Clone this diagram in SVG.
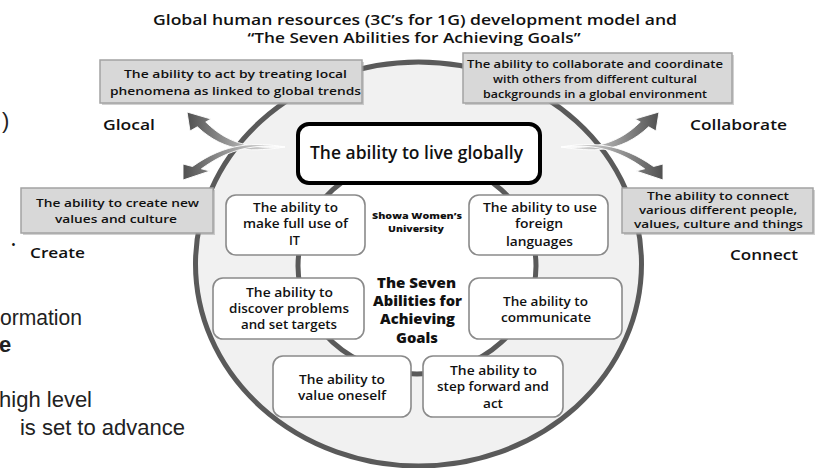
<svg xmlns="http://www.w3.org/2000/svg" width="817" height="468" viewBox="0 0 817 468">
<style>
text{font-family:"Open Sans","Liberation Sans",sans-serif;fill:#111;}
.t{font-size:13.5px;font-weight:600;text-anchor:middle;}
.g{font-size:11.5px;font-weight:600;text-anchor:middle;}
.w{font-size:12.5px;font-weight:600;text-anchor:middle;}
.lbl{font-size:15px;font-weight:600;}
.frag{font-family:"Liberation Sans",Arial,sans-serif;font-size:22px;fill:#222;}
.gbox{fill:#d8d8d8;stroke:#a3a3a3;stroke-width:1.5;}
.shadow{fill:#9a9a9a;opacity:0.45;}
.wbox{fill:#fff;stroke:#8a8a8a;stroke-width:1.6;}
.arr{fill:url(#ag);stroke:#fff;stroke-width:0.9;}
</style>
<defs>
<linearGradient id="ag" x1="1" y1="0" x2="0" y2="0">
<stop offset="0" stop-color="#f0f0f0"/>
<stop offset="0.4" stop-color="#b5b5b5"/>
<stop offset="1" stop-color="#505050"/>
</linearGradient>
</defs>
<rect width="817" height="468" fill="#fff"/>

<g id="title">
<text class="t" x="415" y="24.5" textLength="524" lengthAdjust="spacingAndGlyphs">Global human resources (3C’s for 1G) development model and</text>
<text class="t" x="414" y="43" textLength="333" lengthAdjust="spacingAndGlyphs">“The Seven Abilities for Achieving Goals”</text>
</g>

<g id="fragments">
<text class="frag" x="2" y="128">)</text>
<text class="frag" x="82" y="325" text-anchor="end" textLength="82" lengthAdjust="spacingAndGlyphs">ormation</text>
<text class="frag" x="-1" y="352" font-weight="bold">e</text>
<text class="frag" x="92" y="407" text-anchor="end">high level</text>
<text class="frag" x="185" y="435" text-anchor="end">is set to advance</text>
</g>

<g id="outer-circle">
<ellipse cx="418.5" cy="264" rx="223" ry="202" fill="#f1f1f1" stroke="#5a5a5a" stroke-width="5"/>
</g>

<g id="connectors">
<ellipse cx="417" cy="266" rx="119" ry="108" fill="#fff" stroke="#5a5a5a" stroke-width="5"/>
<g id="left-arrows">
<path class="arr" d="M285,147 C255,148.5 230,146 205.75,122 L211,119 L187,112 L190,131 L197.35,126.8 C226,154 255,151.5 285,147 Z"/>
<path class="arr" d="M285,147 C255,142 226,142.5 192.5,166.5 L183,164 L183,180 L210,171 L201.4,168.8 C230,148 255,144 285,147 Z"/>
</g>
<g id="right-arrows" transform="translate(846,0) scale(-1,1)">
<path class="arr" d="M285,147 C255,148.5 230,146 205.75,122 L211,119 L187,112 L190,131 L197.35,126.8 C226,154 255,151.5 285,147 Z"/>
<path class="arr" d="M285,147 C255,142 226,142.5 192.5,166.5 L183,164 L183,180 L210,171 L201.4,168.8 C230,148 255,144 285,147 Z"/>
</g>
</g>

<g id="glocal-box">
<rect class="shadow" x="102" y="62" width="262" height="43"/>
<rect class="gbox" x="100" y="60" width="262" height="43"/>
<text class="g" x="235.5" y="78" textLength="223" lengthAdjust="spacingAndGlyphs">The ability to act by treating local</text>
<text class="g" x="235.5" y="95" textLength="251" lengthAdjust="spacingAndGlyphs">phenomena as linked to global trends</text>
</g>

<g id="collaborate-box">
<rect class="shadow" x="465" y="55" width="269" height="50"/>
<rect class="gbox" x="463" y="53" width="269" height="50"/>
<text class="g" x="595" y="68" textLength="256" lengthAdjust="spacingAndGlyphs">The ability to collaborate and coordinate</text>
<text class="g" x="595" y="83" textLength="204" lengthAdjust="spacingAndGlyphs">with others from different cultural</text>
<text class="g" x="595" y="98" textLength="224" lengthAdjust="spacingAndGlyphs">backgrounds in a global environment</text>
</g>

<g id="create-box">
<rect class="shadow" x="23" y="190" width="192" height="45"/>
<rect class="gbox" x="21" y="188" width="192" height="45"/>
<text class="g" x="117.5" y="207" textLength="163" lengthAdjust="spacingAndGlyphs">The ability to create new</text>
<text class="g" x="116" y="223" textLength="122" lengthAdjust="spacingAndGlyphs">values and culture</text>
</g>

<g id="connect-box">
<rect class="shadow" x="624" y="190" width="191" height="45"/>
<rect class="gbox" x="622" y="188" width="191" height="45"/>
<text class="g" x="718" y="200" font-size="11" textLength="142" lengthAdjust="spacingAndGlyphs">The ability to connect</text>
<text class="g" x="718" y="214" font-size="11" textLength="158" lengthAdjust="spacingAndGlyphs">various different people,</text>
<text class="g" x="718.5" y="228" font-size="11" textLength="169" lengthAdjust="spacingAndGlyphs">values, culture and things</text>
</g>

<g id="labels">
<text class="lbl" x="103" y="130" textLength="52" lengthAdjust="spacingAndGlyphs">Glocal</text>
<text class="lbl" x="690" y="130" textLength="97" lengthAdjust="spacingAndGlyphs">Collaborate</text>
<text x="11" y="249" font-size="13" font-family="Liberation Sans, sans-serif">•</text>
<text class="lbl" x="30" y="258" textLength="55" lengthAdjust="spacingAndGlyphs">Create</text>
<text class="lbl" x="730" y="260" textLength="68" lengthAdjust="spacingAndGlyphs">Connect</text>
</g>

<g id="live-globally">
<rect x="298" y="124" width="242" height="59" rx="11" fill="#fff" stroke="#000" stroke-width="4"/>
<text x="416.5" y="159" font-size="18" font-weight="600" text-anchor="middle" textLength="213" lengthAdjust="spacingAndGlyphs">The ability to live globally</text>
</g>

<g id="center-label">
<text x="417" y="219" font-size="9.5" font-weight="800" text-anchor="middle" textLength="90" lengthAdjust="spacingAndGlyphs">Showa Women’s</text>
<text x="416" y="232" font-size="9.5" font-weight="800" text-anchor="middle" textLength="56" lengthAdjust="spacingAndGlyphs">University</text>
<text x="416.5" y="288" font-size="14" font-weight="800" text-anchor="middle" textLength="79" lengthAdjust="spacingAndGlyphs">The Seven</text>
<text x="417.5" y="306" font-size="14" font-weight="800" text-anchor="middle" textLength="89" lengthAdjust="spacingAndGlyphs">Abilities for</text>
<text x="417.5" y="324" font-size="14" font-weight="800" text-anchor="middle" textLength="75" lengthAdjust="spacingAndGlyphs">Achieving</text>
<text x="417" y="343" font-size="14" font-weight="800" text-anchor="middle" textLength="42" lengthAdjust="spacingAndGlyphs">Goals</text>
</g>

<g id="it-box">
<rect class="wbox" x="226" y="195" width="139" height="60" rx="10"/>
<text class="w" x="295.5" y="212" textLength="85" lengthAdjust="spacingAndGlyphs">The ability to</text>
<text class="w" x="295.5" y="228" textLength="105" lengthAdjust="spacingAndGlyphs">make full use of</text>
<text class="w" x="294.5" y="245" textLength="11" lengthAdjust="spacingAndGlyphs">IT</text>
</g>

<g id="foreign-box">
<rect class="wbox" x="469" y="195" width="139" height="60" rx="10"/>
<text class="w" x="540" y="212" textLength="114" lengthAdjust="spacingAndGlyphs">The ability to use</text>
<text class="w" x="539" y="228" textLength="48" lengthAdjust="spacingAndGlyphs">foreign</text>
<text class="w" x="539.5" y="246" textLength="67" lengthAdjust="spacingAndGlyphs">languages</text>
</g>

<g id="discover-box">
<rect class="wbox" x="213" y="278" width="151" height="61" rx="10"/>
<text class="w" x="289.5" y="297" textLength="87" lengthAdjust="spacingAndGlyphs">The ability to</text>
<text class="w" x="289" y="313" textLength="120" lengthAdjust="spacingAndGlyphs">discover problems</text>
<text class="w" x="289" y="329" textLength="96" lengthAdjust="spacingAndGlyphs">and set targets</text>
</g>

<g id="communicate-box">
<rect class="wbox" x="469" y="278" width="153" height="61" rx="10"/>
<text class="w" x="545.5" y="306" textLength="85" lengthAdjust="spacingAndGlyphs">The ability to</text>
<text class="w" x="546" y="322" textLength="90" lengthAdjust="spacingAndGlyphs">communicate</text>
</g>

<g id="value-box">
<rect class="wbox" x="273" y="356" width="138" height="61" rx="10"/>
<text class="w" x="342" y="384" textLength="86" lengthAdjust="spacingAndGlyphs">The ability to</text>
<text class="w" x="342" y="400" textLength="88" lengthAdjust="spacingAndGlyphs">value oneself</text>
</g>

<g id="step-box">
<rect class="wbox" x="423" y="356" width="140" height="61" rx="10"/>
<text class="w" x="493.5" y="375" textLength="87" lengthAdjust="spacingAndGlyphs">The ability to</text>
<text class="w" x="493" y="391" textLength="112" lengthAdjust="spacingAndGlyphs">step forward and</text>
<text class="w" x="493" y="408" textLength="20" lengthAdjust="spacingAndGlyphs">act</text>
</g>
</svg>
